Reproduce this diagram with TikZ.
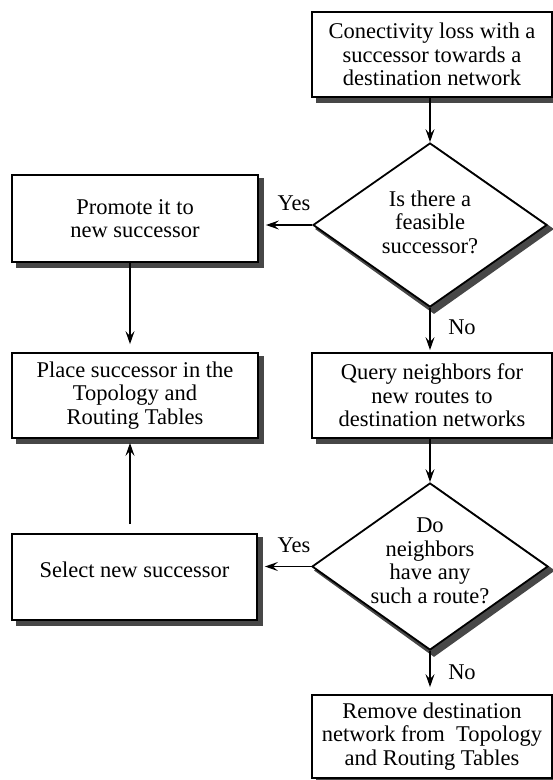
\documentclass[tikz,border=0pt]{standalone}
\usepackage{fontspec}
\setmainfont{Liberation Serif}
\usetikzlibrary{shapes.geometric,arrows.meta,backgrounds}
\definecolor{shadowgray}{HTML}{474747}
\begin{document}
\begin{tikzpicture}[x=1pt,y=-1pt,
  box/.style={draw, line width=1.8pt, fill=white, rectangle, align=center, inner sep=0pt,
    font=\fontsize{22.5}{23.5}\selectfont},
  dia/.style={draw, line width=1.8pt, fill=white, diamond, inner sep=0pt},
  txt/.style={align=center, inner sep=0pt, font=\fontsize{22.5}{23.5}\selectfont},
  lbl/.style={inner sep=0pt, font=\fontsize{22.5}{23.5}\selectfont},
  shadowfill/.style={fill=shadowgray},
  arr/.style={-{Stealth[length=13pt,width=9pt,inset=5pt]}, line width=1.4pt}]
\useasboundingbox (0,0) rectangle (553,780);

\node[box, minimum width=240pt, minimum height=85pt] (start) at (432,54.5)
  {Conectivity loss with a\\successor towards a\\destination network};
\node[dia, minimum width=234pt, minimum height=164pt] (d1) at (430,225) {};
\node[txt] (d1t) at (430,222) {Is there a\\feasible\\successor?};
\node[box, minimum width=246pt, minimum height=87pt] (promote) at (135,218.5)
  {Promote it to\\new successor};
\node[box, minimum width=246pt, minimum height=85pt] (place) at (135,395.5)
  {Place successor in the\\Topology and\\Routing Tables};
\node[box, minimum width=240pt, minimum height=85pt] (query) at (432,395.5)
  {Query neighbors for\\new routes to\\destination networks};
\node[dia, minimum width=236pt, minimum height=167pt] (d2) at (430,566.5) {};
\node[txt] (d2t) at (430,561) {Do\\neighbors\\have any\\such a route?};
\node[box, minimum width=245pt, minimum height=86pt, text depth=14pt] (select) at (134.5,577)
  {Select new successor};
\node[box, minimum width=240pt, minimum height=83pt] (remove) at (432,736.5)
  {Remove destination\\network from~ Topology\\and Routing Tables};

\begin{scope}[on background layer]
  \foreach \n in {start,promote,place,query,select,remove}
    \fill[shadowfill] ([shift={(4.5pt,-5.5pt)}]\n.south west) rectangle ([shift={(5.5pt,-3.5pt)}]\n.north east);
  \foreach \n in {d1,d2}
    \fill[shadowfill] ([shift={(4pt,-3pt)}]\n.north) -- ([shift={(6pt,-4pt)}]\n.east) -- ([shift={(4pt,-6pt)}]\n.south) -- ([shift={(3pt,-4pt)}]\n.west) -- cycle;
\end{scope}

\draw[arr] (d1.north |- start.south) -- (d1.north);
\draw[arr, shorten >=7pt] (d1.west) -- (d1.west -| promote.east);
\node[lbl] (yes1) at (294,203) {Yes};
\draw[arr, shorten >=8pt] ([xshift=-5pt]promote.south) -- ([xshift=-5pt]place.north);
\draw[arr, shorten >=2pt] (d1.south) -- (d1.south |- query.north);
\node[lbl] (no1) at (462,327) {No};
\draw[arr] (d2.north |- query.south) -- (d2.north);
\draw[arr, shorten >=7pt] (d2.west) -- (d2.west -| select.east);
\node[lbl] (yes2) at (294,545) {Yes};
\draw[arr, shorten <=9pt] ([xshift=-4.5pt]select.north) -- ([xshift=-5pt,yshift=-4pt]place.south);
\draw[arr, shorten >=7pt] (d2.south) -- (d2.south |- remove.north);
\node[lbl] (no2) at (462,672) {No};
\end{tikzpicture}
\end{document}
